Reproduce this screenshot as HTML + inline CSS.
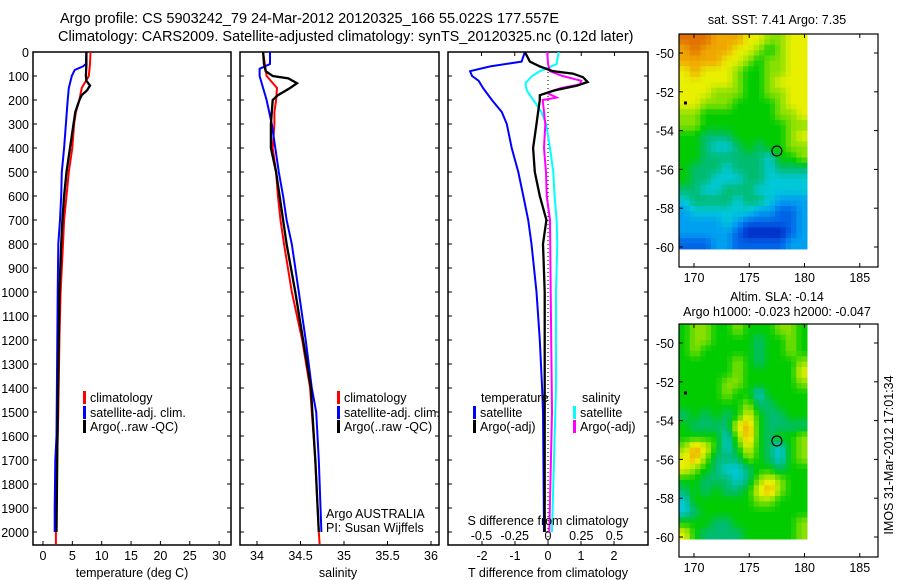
<!DOCTYPE html>
<html><head><meta charset="utf-8"><style>
body{margin:0;background:#fff}
svg{display:block;font-family:"Liberation Sans",sans-serif}
</style></head><body>
<svg id="fig" width="900" height="580" viewBox="0 0 900 580" xmlns="http://www.w3.org/2000/svg">
<rect width="900" height="580" fill="#fff"/>
<text x="60" y="23" font-size="14.5">Argo profile: CS 5903242_79 24-Mar-2012 20120325_166 55.022S 177.557E</text>
<text x="58" y="41" font-size="14.5">Climatology: CARS2009. Satellite-adjusted climatology: synTS_20120325.nc (0.12d later)</text>
<text x="777" y="24" font-size="12.5" text-anchor="middle">sat. SST: 7.41 Argo: 7.35</text>
<text x="777" y="301" font-size="12.5" text-anchor="middle">Altim. SLA: -0.14</text>
<text x="777" y="316" font-size="12.5" text-anchor="middle">Argo h1000: -0.023 h2000: -0.047</text>
<text transform="translate(893,455) rotate(-90)" font-size="12.5" text-anchor="middle">IMOS 31-Mar-2012 17:01:34</text>
<g id="plots"></g>
</svg>
<script>
// ---------- data ----------
const depthClim = [0,50,100,150,200,250,300,400,500,600,700,800,1000,1200,1500,1700,2000,2050];
const tempClim  = [8.1,8.0,7.8,6.6,6.2,5.6,5.3,5.0,4.4,4.0,3.6,3.4,3.0,2.8,2.6,2.4,2.2,2.2];
const depthSat  = [0,50,60,75,100,150,200,300,400,500,600,700,800,1000,1300,1600,1700,1900,2000];
const tempSat   = [7.4,7.3,6.8,5.4,4.9,4.4,4.2,3.9,3.6,3.2,3.1,2.9,2.6,2.5,2.4,2.3,2.1,2.0,2.0];
const depthArgo = [0,50,100,120,140,160,180,200,250,300,400,500,600,700,800,1000,1500,2000];
const tempArgo  = [7.4,7.4,7.3,7.4,8.0,7.5,6.6,6.2,5.5,5.2,4.6,4.0,3.6,3.3,3.1,2.8,2.5,2.3];
const salClimDepth = [0,100,150,200,250,300,400,500,600,700,800,1000,1200,1400,1500,1700,2000,2050];
const salClim   = [34.07,34.11,34.23,34.22,34.2,34.2,34.18,34.22,34.24,34.27,34.31,34.4,34.52,34.61,34.63,34.67,34.71,34.72];
const salSatDepth = [0,50,70,100,150,200,300,400,500,600,700,800,1000,1200,1400,1500,1700,2000];
const salSat    = [34.15,34.15,34.03,34.03,34.07,34.11,34.17,34.21,34.25,34.3,34.34,34.4,34.48,34.56,34.63,34.68,34.71,34.74];
const salArgoDepth = [0,50,80,100,110,130,150,180,200,250,300,400,500,600,700,800,1000,1400,1700,2000];
const salArgo   = [34.07,34.08,34.1,34.18,34.36,34.46,34.38,34.24,34.18,34.17,34.16,34.16,34.22,34.26,34.3,34.34,34.44,34.62,34.67,34.71];
const dTSatDepth = [0,40,60,80,100,120,150,200,250,300,400,500,600,700,800,1000,1200,1400,1500,2000];
const dTSat     = [-0.7,-0.8,-1.75,-2.36,-2.3,-2.1,-1.97,-1.7,-1.4,-1.25,-1.1,-0.9,-0.75,-0.6,-0.5,-0.35,-0.25,-0.18,-0.15,-0.12];
const dTArgoDepth = [0,40,60,80,90,105,125,140,160,180,200,250,300,400,500,600,700,800,1000,1500,2000];
const dTArgo    = [-0.7,-0.55,-0.25,0.15,0.75,1.06,1.2,0.88,0.2,-0.25,-0.25,-0.3,-0.35,-0.45,-0.4,-0.25,-0.05,-0.15,-0.1,-0.1,-0.1];
const dSSatDepth = [0,50,80,100,130,160,200,250,300,400,500,600,700,800,1000,1400,2000];
const dSSat     = [0.08,0.065,-0.06,-0.12,-0.17,-0.16,-0.11,-0.05,-0.015,0.015,0.04,0.05,0.065,0.07,0.06,0.06,0.03];
const dSArgoDepth = [0,50,80,100,120,135,150,170,190,200,250,300,400,500,600,700,1000,1500,2000];
const dSArgo    = [-0.005,0,0.015,0.11,0.25,0.24,0.1,-0.01,0.065,-0.04,-0.03,-0.02,-0.03,-0.015,-0.01,0.015,0.02,0.03,0.01];
const depthTicks = [0,100,200,300,400,500,600,700,800,900,1000,1100,1200,1300,1400,1500,1600,1700,1800,1900,2000];
const tempTicks = [0,5,10,15,20,25,30];
const salTicks = ['34','34.5','35','35.5','36'];
const dTTicks = [-2,-1,0,1,2];
const dSTicks = ['-0.5','-0.25','0','0.25','0.5'];
const lonTicks = [170,175,180,185];
const latTicks = [-50,-52,-54,-56,-58,-60];
const sstGrid = [
"999888776677","898887765677","888877656677","787776556677","777776556777",
"777666556677","776665555677","665555555667","665555555566","554445555567",
"554334545566","554444443556","544434443444","544333443333","443344433333",
"344443443222","233333322112","222232111112","222221000012","111221111122"];
const slaGrid = [
"566556555665","566555545565","565555545565","555556545556","555556555557",
"555566555556","555565535555","555555644555","454545754455","544447854444",
"555536854556","687535754356","786444654356","765433455455","554443467655",
"454544578655","355555566555","345555555555","555445555556","754444555556"];
const palette = ['#0024c0','#0064e8','#00a0f0','#00c8d8','#00bc70','#00cc00','#88e000','#e8f000','#f0a800','#e07000'];

// ---------- helpers ----------
const NS='http://www.w3.org/2000/svg';
const root=document.getElementById('plots');
function mk(tag,attrs,parent){const e=document.createElementNS(NS,tag);for(const k in attrs)e.setAttribute(k,attrs[k]);(parent||root).appendChild(e);return e;}
const Y0=52, PXM=0.24;
function yD(d){return Y0+d*PXM;}
const TOP=52, BOT=545;
function xT(v){return 43+v*5.87;}
function xS(v){return 257+(v-34)*87;}
function xDT(v){return 548+v*33;}
function xDS(v){return 548+v*133;}

function frame(x0,x1,name){
  const r=mk('rect',{x:x0,y:TOP,width:x1-x0,height:BOT-TOP,fill:'none',stroke:'#000','stroke-width':1.5});
  
  
  depthTicks.forEach(d=>{
    const y=yD(d);
    const t1=mk('line',{x1:x0,x2:x0+4,y1:y,y2:y,stroke:'#000'});
    
    
    const t2=mk('line',{x1:x1-4,x2:x1,y1:y,y2:y,stroke:'#000'});
    
    
  });
}
function xticks(vals,fx,labels,y,name){
  vals.forEach((v,i)=>{
    const x=fx(+v);
    const t=mk('line',{x1:x,x2:x,y1:BOT-4,y2:BOT,stroke:'#000'});
    
    
    const l=mk('text',{x:x,y:y,'font-size':12.5,'text-anchor':'middle'});
    l.textContent=labels[i];
    
    
  });
}
function line(xs,ds,fx,color,name,w){
  const pts=xs.map((v,i)=>fx(v).toFixed(1)+','+yD(ds[i]).toFixed(1)).join(' ');
  const p=mk('polyline',{points:pts,fill:'none',stroke:color,'stroke-width':w||2});
  
  
}
function txt(x,y,s,name,size,anchor){
  const t=mk('text',{x:x,y:y,'font-size':size||12.5,'text-anchor':anchor||'start'});
  t.textContent=s;
  
  
  return t;
}
function legend(x,y,color,label,name){
  const m=mk('rect',{x:x,y:y-11,width:3,height:13,fill:color});
  
  
  txt(x+7,y,label,name);
}

// ---------- panel 1 ----------
frame(33,231,'temperature-panel');
depthTicks.forEach(d=>{txt(29,yD(d)+5,String(d),'depth-tick-label',12.5,'end');});
xticks(tempTicks,xT,tempTicks.map(String),560,'temperature');
txt(132,577,'temperature (deg C)','temperature-axis-title',12.5,'middle');
line(tempClim,depthClim,xT,'#f00','temp-climatology-line');
line(tempSat,depthSat,xT,'#00f','temp-satellite-line');
line(tempArgo,depthArgo,xT,'#000','temp-argo-line',2.3);
legend(83,402,'#f00','climatology','legend-climatology');
legend(83,417,'#00f','satellite-adj. clim.','legend-satellite');
legend(83,431,'#000','Argo(..raw -QC)','legend-argo');

// ---------- panel 2 ----------
frame(240,439,'salinity-panel');
xticks(salTicks,xS,salTicks,560,'salinity');
txt(338,577,'salinity','salinity-axis-title',12.5,'middle');
line(salClim,salClimDepth,xS,'#f00','sal-climatology-line');
line(salSat,salSatDepth,xS,'#00f','sal-satellite-line');
line(salArgo,salArgoDepth,xS,'#000','sal-argo-line',2.3);
legend(337,402,'#f00','climatology','legend-climatology-2');
legend(337,417,'#00f','satellite-adj. clim.','legend-satellite-2');
legend(337,431,'#000','Argo(..raw -QC)','legend-argo-2');
txt(326,518,'Argo AUSTRALIA','argo-australia-label');
txt(326,532,'PI: Susan Wijffels','pi-label');

// ---------- panel 3 ----------
frame(448,648,'difference-panel');
const dot=mk('line',{x1:548,x2:548,y1:TOP,y2:BOT,stroke:'#000','stroke-dasharray':'1,3'});


xticks(dTTicks,xDT,dTTicks.map(String),560,'t-diff');
dSTicks.forEach(v=>{const x=xDS(+v);const t=mk('line',{x1:x,x2:x,y1:TOP,y2:TOP+4,stroke:'#000'});
  
  
  txt(x,540,v,'s-diff-tick-label',12.5,'middle');});
line(dTSat,dTSatDepth,xDT,'#00f','t-diff-satellite-line');
line(dSSat,dSSatDepth,xDS,'#0ff','s-diff-satellite-line');
line(dSArgo,dSArgoDepth,xDS,'#f0f','s-diff-argo-line');
line(dTArgo,dTArgoDepth,xDT,'#000','t-diff-argo-line',2.3);
txt(548,525,'S difference from climatology','s-diff-axis-title',12.5,'middle');
txt(548,577,'T difference from climatology','t-diff-axis-title',12.5,'middle');
txt(481,402,'temperature','legend-temperature-heading');
legend(473,417,'#00f','satellite','legend-t-satellite');
legend(473,431,'#000','Argo(-adj)','legend-t-argo');
txt(582,402,'salinity','legend-salinity-heading');
legend(573,417,'#0ff','satellite','legend-s-satellite');
legend(573,431,'#f0f','Argo(-adj)','legend-s-argo');

// ---------- maps ----------
function hex(c){return [1,3,5].map(i=>parseInt(c.substr(i,2),16));}
const palRGB=palette.map(hex);
function colorAt(v){
  v=Math.max(0,Math.min(9,v));const i=Math.min(8,Math.floor(v)),f=v-i;
  const a=palRGB[i],b=palRGB[i+1];
  return 'rgb('+a.map((x,k)=>Math.round(x+(b[k]-x)*f)).join(',')+')';
}
function sample(grid,r,c){
  const R=grid.length-1,C=grid[0].length-1;
  r=Math.max(0,Math.min(R,r));c=Math.max(0,Math.min(C,c));
  const r0=Math.floor(r),c0=Math.floor(c),r1=Math.min(R,r0+1),c1=Math.min(C,c0+1),fr=r-r0,fc=c-c0;
  const g=(a,b)=>+grid[a][b];
  return (g(r0,c0)*(1-fc)+g(r0,c1)*fc)*(1-fr)+(g(r1,c0)*(1-fc)+g(r1,c1)*fc)*fr;
}
function map(top,grid,name){
  const x0=679,x1=878,bot=top+233;
  const lonX=v=>694+(v-170)*11.05, latY=v=>top+19+(-50-v)*19.4;
  const g=mk('g',{});
  
  
  const ix0=x0, ix1=807, iy0=top, iy1=latY(-60.1);
  const rows=grid.length, cols=grid[0].length, SUB=2;
  const cw=(ix1-ix0)/(cols*SUB), ch=(iy1-iy0)/(rows*SUB);
  for(let r=0;r<rows*SUB;r++)for(let k=0;k<cols*SUB;k++){
    const v=sample(grid,(r+0.5)/SUB-0.5,(k+0.5)/SUB-0.5);
    const cell=mk('rect',{x:(ix0+k*cw).toFixed(2),y:(iy0+r*ch).toFixed(2),width:(cw+0.5).toFixed(2),height:(ch+0.5).toFixed(2),fill:colorAt(v)},g);
    
    
  }
  const fr=mk('rect',{x:x0,y:top,width:x1-x0,height:bot-top,fill:'none',stroke:'#000','stroke-width':1.2},g);
  
  
  lonTicks.forEach(v=>{const x=lonX(v);
    const a=mk('line',{x1:x,x2:x,y1:bot-4,y2:bot,stroke:'#000'},g);
    
    
    const b=mk('line',{x1:x,x2:x,y1:top,y2:top+4,stroke:'#000'},g);
    
    
    const l=txt(x,bot+15,String(v),'lon-tick-label',12.5,'middle');g.appendChild(l);});
  latTicks.forEach(v=>{const y=latY(v);
    const a=mk('line',{x1:x0,x2:x0+4,y1:y,y2:y,stroke:'#000'},g);
    
    
    const b=mk('line',{x1:x1-4,x2:x1,y1:y,y2:y,stroke:'#000'},g);
    
    
    const l=txt(674,y+5,String(v),'lat-tick-label',12.5,'end');g.appendChild(l);});
  const c=mk('circle',{cx:lonX(177.5),cy:latY(-55.05),r:5,fill:'none',stroke:'#000','stroke-width':1.2},g);
  
  
  const d=mk('rect',{x:684,y:latY(-52.6)-2,width:3,height:3,fill:'#000'},g);
  
  
}
map(34,sstGrid,'sst-map');
map(324,slaGrid,'sla-map');
</script>
</body></html>
